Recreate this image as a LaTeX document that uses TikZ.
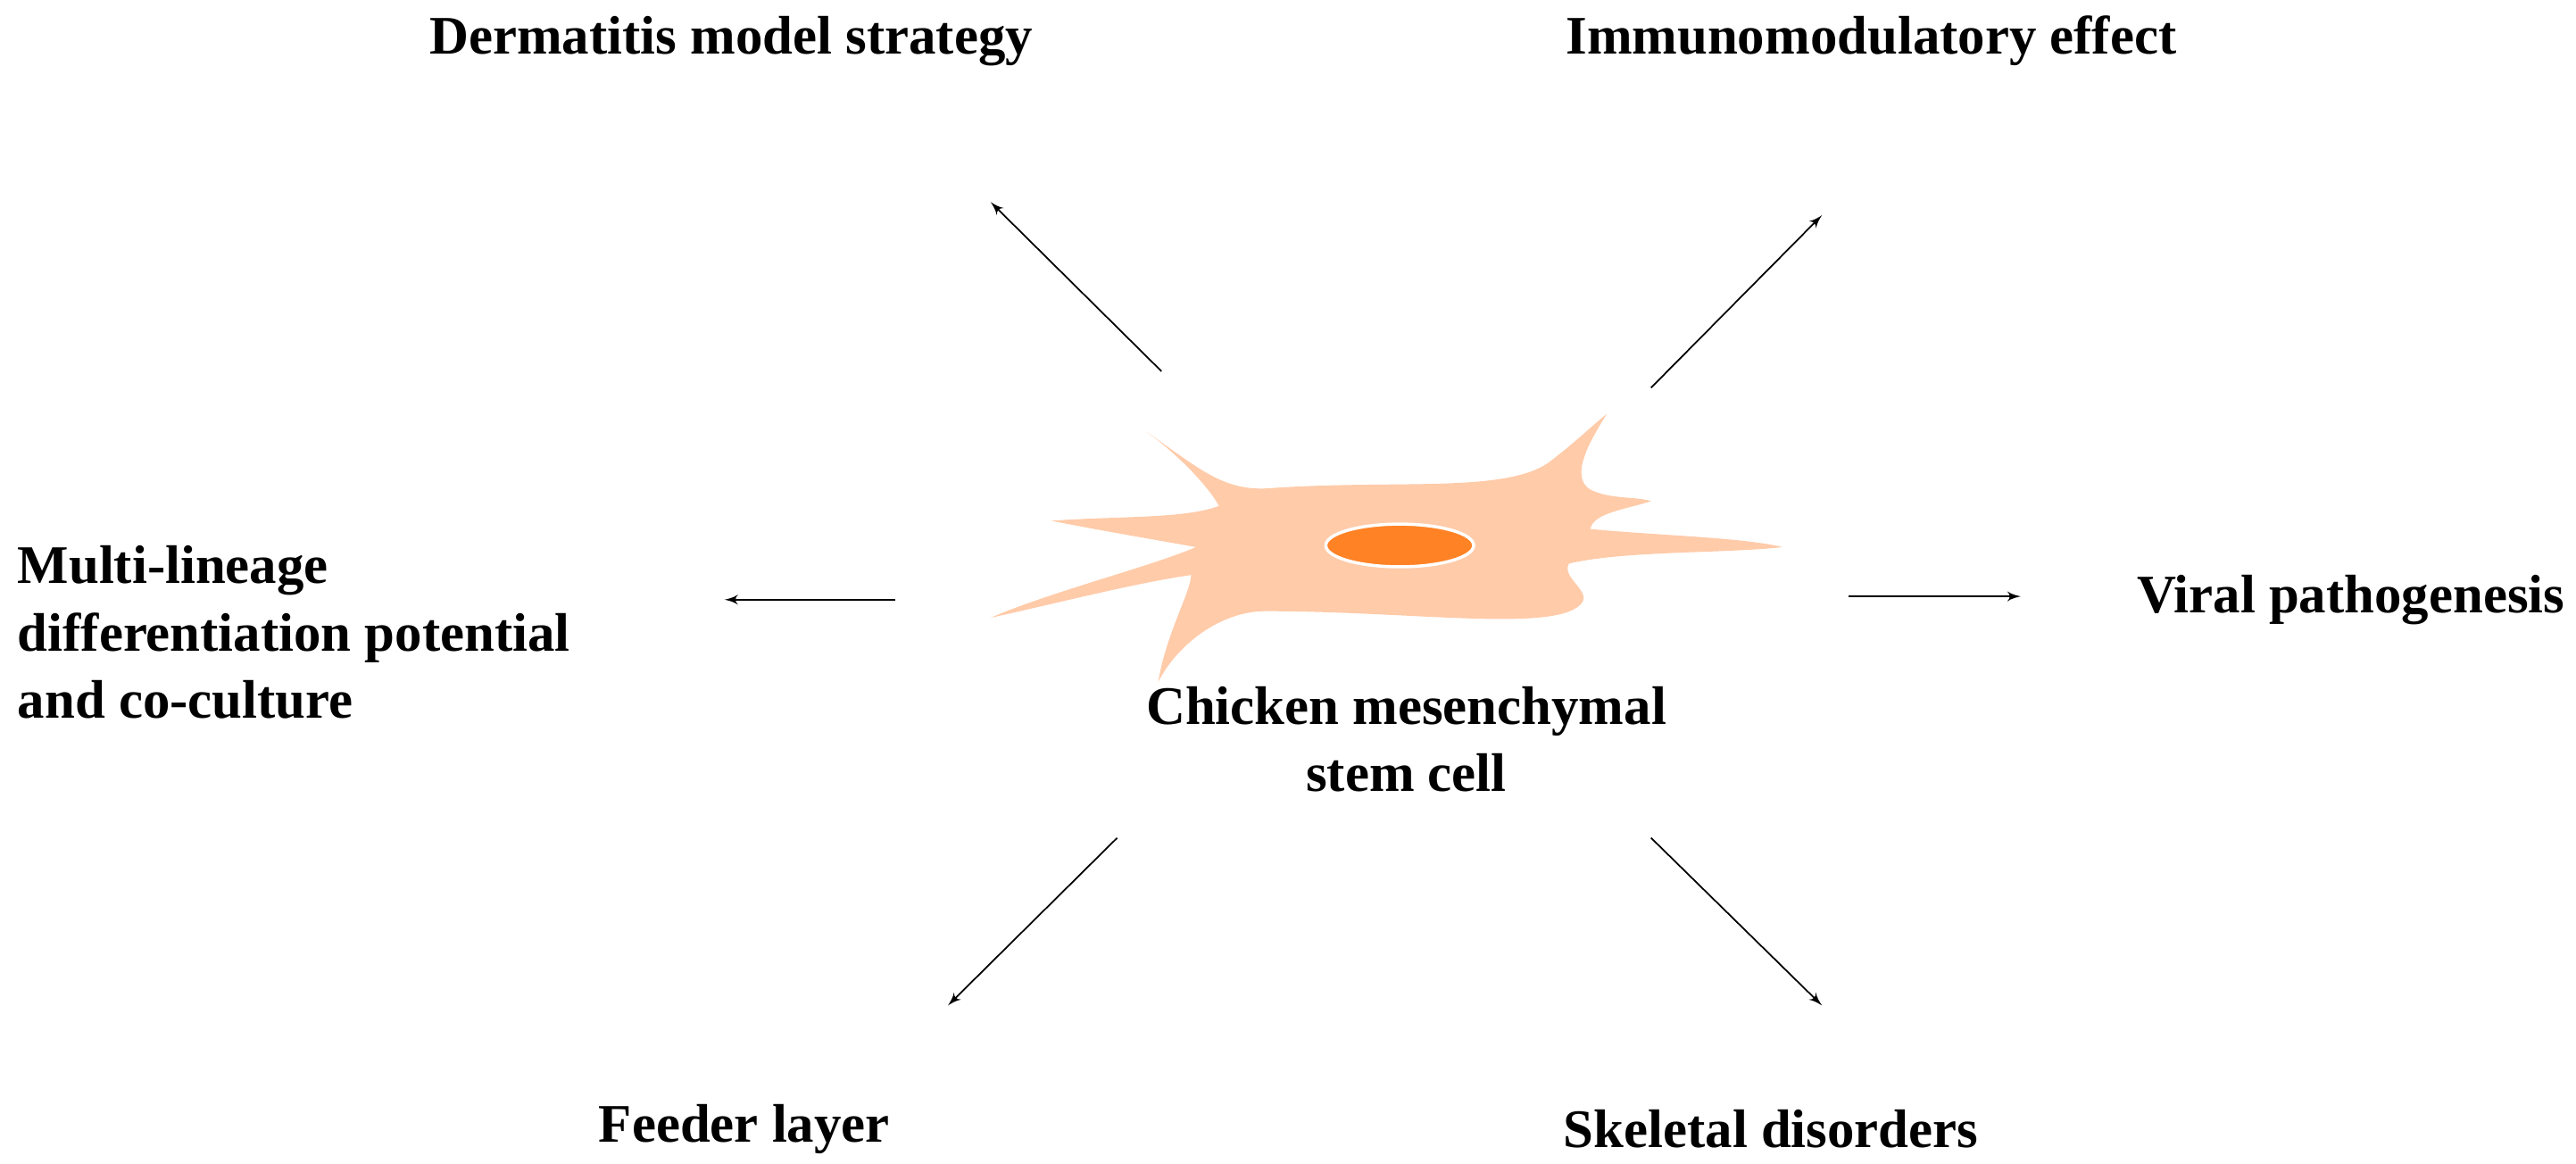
\documentclass[tikz,border=0pt]{standalone}
\usepackage{fontspec}
\setmainfont{Liberation Serif}
\usetikzlibrary{arrows}
\definecolor{cellbody}{HTML}{FFCBA9}
\definecolor{cellcore}{HTML}{FF8225}
\begin{document}
\begin{tikzpicture}[x=0.184mm,y=-0.184mm]
\tikzstyle{every node}=[font=\fontsize{17.3}{21.5}\selectfont\bfseries]
\tikzstyle{link}=[draw,-latex',line width=0.5pt]
\useasboundingbox (0,0) rectangle (1568,708);
% cell
\fill[cellbody] (698,263) .. controls (730,285) and (745,300) .. (775,297)
 .. controls (850,292) and (915,300) .. (942,282) .. controls (958,270) and (968,260) .. (978,252)
 .. controls (968,268) and (955,290) .. (968,298) .. controls (980,304) and (995,302) .. (1005,305)
 .. controls (990,310) and (970,312) .. (968,322) .. controls (1010,326) and (1060,327) .. (1085,333)
 .. controls (1050,337) and (990,335) .. (955,343) .. controls (950,352) and (970,360) .. (962,368)
 .. controls (945,385) and (860,372) .. (770,372) .. controls (745,372) and (718,390) .. (705,415)
 .. controls (710,385) and (725,360) .. (725,350) .. controls (690,355) and (640,368) .. (603,376)
 .. controls (640,360) and (700,345) .. (728,333) .. controls (700,328) and (665,322) .. (640,317)
 .. controls (680,314) and (720,316) .. (742,308) .. controls (735,295) and (715,275) .. (698,263) -- cycle;
\draw[white,line width=1pt,fill=cellcore] (852,332) ellipse [x radius=45,y radius=13];
\node[align=center] (cell) at (856,450) {Chicken mesenchymal\\stem cell};
% labels
\node (derm) at (445,25) {Dermatitis model strategy};
\node (immu) at (1139,25) {Immunomodulatory effect};
\node[align=left,anchor=west] (multi) at (4,385) {Multi-lineage\\differentiation potential\\and co-culture};
\node[anchor=west] (viral) at (1294,365) {Viral pathogenesis};
\node (feed) at (453,687) {Feeder layer};
\node (skel) at (1078,687) {Skeletal disorders};
% arrows
\coordinate (d0) at (707,226); \coordinate (d1) at (603,123);
\coordinate (i0) at (1005,236); \coordinate (i1) at (1109,131);
\coordinate (m0) at (545,365); \coordinate (m1) at (441,365);
\coordinate (v0) at (1125,363); \coordinate (v1) at (1230,363);
\coordinate (f0) at (680,510); \coordinate (f1) at (577,612);
\coordinate (s0) at (1005,510); \coordinate (s1) at (1109,612);
\path [link] (d0) -- (d1);
\path [link] (i0) -- (i1);
\path [link] (m0) -- (m1);
\path [link] (v0) -- (v1);
\path [link] (f0) -- (f1);
\path [link] (s0) -- (s1);
\end{tikzpicture}
\end{document}
